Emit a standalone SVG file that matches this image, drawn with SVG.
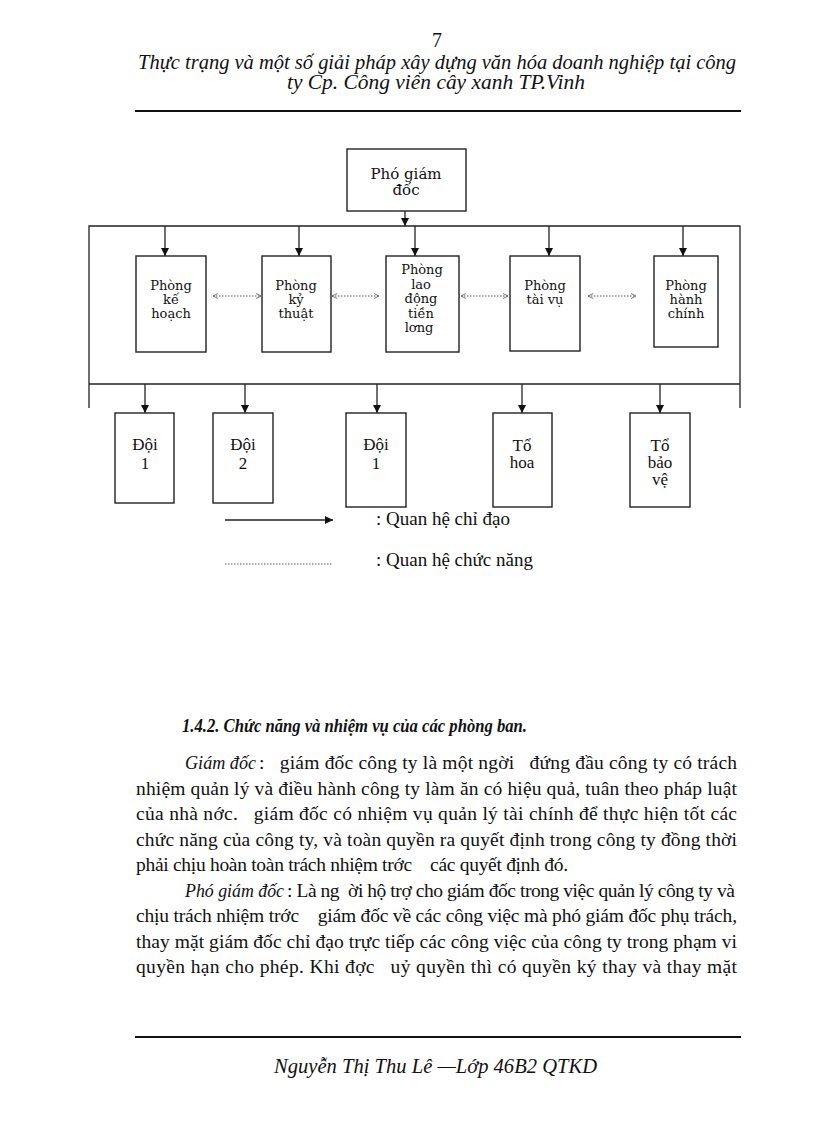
<svg xmlns="http://www.w3.org/2000/svg" width="816" height="1123" viewBox="0 0 816 1123">
<defs>
<style>
.hdr{font-family:"Liberation Serif","Times New Roman",serif;font-size:20px;fill:#111}
.it{font-style:italic}
.box{fill:#fff;stroke:#222;stroke-width:1.4}
.t1{font-family:"DejaVu Serif",serif;font-size:13px;fill:#111;text-anchor:middle}
.t0{font-family:"DejaVu Serif",serif;font-size:15px;fill:#111;text-anchor:middle}
.t2{font-family:"Liberation Serif","Times New Roman",serif;font-size:17px;fill:#111;text-anchor:middle}
.lg{font-family:"Liberation Serif","Times New Roman",serif;font-size:19px;fill:#111}
.body{font-family:"Liberation Serif","Times New Roman",serif;font-size:19.5px;fill:#111;white-space:pre}
.solid{stroke:#222;stroke-width:1.3;fill:none}
.dot{stroke:#555;stroke-width:1;stroke-dasharray:1.5 1.5;fill:none}
.rule{stroke:#111;stroke-width:2}
</style>
<marker id="ah" markerWidth="9" markerHeight="8" refX="8" refY="4" orient="auto" markerUnits="userSpaceOnUse">
<path d="M0,0 L8,4 L0,8 Z" fill="#111"/>
</marker>
<marker id="dh" markerWidth="6" markerHeight="6" refX="5" refY="3" orient="auto-start-reverse" markerUnits="userSpaceOnUse">
<path d="M0,0.5 L5,3 L0,5.5" fill="none" stroke="#555" stroke-width="0.8"/>
</marker>
</defs>
<rect width="816" height="1123" fill="#fff"/>

<g id="header">
<text class="hdr" x="437" y="47" text-anchor="middle">7</text>
<text class="hdr it" x="138" y="69" textLength="598" lengthAdjust="spacingAndGlyphs">Thực trạng và một số giải pháp xây dựng văn hóa doanh nghiệp tại công</text>
<text class="hdr it" x="287" y="89" textLength="298" lengthAdjust="spacingAndGlyphs">ty Cp. Công viên cây xanh TP.Vinh</text>
<line class="rule" x1="135" y1="111" x2="741" y2="111"/>
</g>

<g id="connectors">
<line class="solid" x1="405" y1="211" x2="405" y2="226" marker-end="url(#ah)"/>
<path class="solid" d="M89,408 L89,226 L740,226 L740,408"/>
<line class="solid" x1="89" y1="384" x2="740" y2="384"/>
<line class="solid" x1="165" y1="226" x2="165" y2="256" marker-end="url(#ah)"/>
<line class="solid" x1="299" y1="226" x2="299" y2="256" marker-end="url(#ah)"/>
<line class="solid" x1="415" y1="226" x2="415" y2="256" marker-end="url(#ah)"/>
<line class="solid" x1="549" y1="226" x2="549" y2="256" marker-end="url(#ah)"/>
<line class="solid" x1="683" y1="226" x2="683" y2="256" marker-end="url(#ah)"/>
<line class="solid" x1="145" y1="384" x2="145" y2="413" marker-end="url(#ah)"/>
<line class="solid" x1="245" y1="384" x2="245" y2="413" marker-end="url(#ah)"/>
<line class="solid" x1="377" y1="384" x2="377" y2="413" marker-end="url(#ah)"/>
<line class="solid" x1="522" y1="384" x2="522" y2="413" marker-end="url(#ah)"/>
<line class="solid" x1="660" y1="384" x2="660" y2="413" marker-end="url(#ah)"/>
<line class="dot" x1="213" y1="296" x2="261" y2="296" marker-start="url(#dh)" marker-end="url(#dh)"/>
<line class="dot" x1="332" y1="296" x2="379" y2="296" marker-start="url(#dh)" marker-end="url(#dh)"/>
<line class="dot" x1="461" y1="296" x2="508" y2="296" marker-start="url(#dh)" marker-end="url(#dh)"/>
<line class="dot" x1="588" y1="296" x2="636" y2="296" marker-start="url(#dh)" marker-end="url(#dh)"/>
</g>

<g id="n-pgd">
<rect class="box" x="347" y="149" width="119" height="62"/>
<text class="t0" x="406" y="179">Phó giám</text>
<text class="t0" x="406" y="195">đốc</text>
</g>
<g id="n-khoach">
<rect class="box" x="136" y="256" width="70" height="96"/>
<text class="t1" x="171" y="290">Phòng</text>
<text class="t1" x="171" y="304">kế</text>
<text class="t1" x="171" y="318">hoạch</text>
</g>
<g id="n-kythuat">
<rect class="box" x="262" y="256" width="69" height="96"/>
<text class="t1" x="296" y="290">Phòng</text>
<text class="t1" x="296" y="304">kỷ</text>
<text class="t1" x="296" y="318">thuật</text>
</g>
<g id="n-ldtl">
<rect class="box" x="386" y="256" width="73" height="96"/>
<text class="t1" x="422" y="274">Phòng</text>
<text class="t1" x="421" y="289">lao</text>
<text class="t1" x="421" y="303">động</text>
<text class="t1" x="421" y="318">tiền</text>
<text class="t1" x="419" y="332">lơng</text>
</g>
<g id="n-taivu">
<rect class="box" x="510" y="256" width="70" height="95"/>
<text class="t1" x="545" y="290">Phòng</text>
<text class="t1" x="545" y="304">tài vụ</text>
</g>
<g id="n-hanhchinh">
<rect class="box" x="654" y="256" width="64" height="91"/>
<text class="t1" x="686" y="290">Phòng</text>
<text class="t1" x="686" y="304">hành</text>
<text class="t1" x="686" y="318">chính</text>
</g>

<g id="n-doi1">
<rect class="box" x="115" y="413" width="59" height="90"/>
<text class="t2" x="145" y="450">Đội</text>
<text class="t2" x="145" y="469">1</text>
</g>
<g id="n-doi2">
<rect class="box" x="213" y="413" width="60" height="90"/>
<text class="t2" x="243" y="450">Đội</text>
<text class="t2" x="243" y="469">2</text>
</g>
<g id="n-doi1b">
<rect class="box" x="346" y="413" width="60" height="94"/>
<text class="t2" x="376" y="450">Đội</text>
<text class="t2" x="376" y="469">1</text>
</g>
<g id="n-tohoa">
<rect class="box" x="493" y="413" width="59" height="94"/>
<text class="t2" x="522" y="451">Tổ</text>
<text class="t2" x="522" y="468">hoa</text>
</g>
<g id="n-tobaove">
<rect class="box" x="630" y="413" width="60" height="94"/>
<text class="t2" x="660" y="451">Tổ</text>
<text class="t2" x="660" y="468">bảo</text>
<text class="t2" x="660" y="485">vệ</text>
</g>

<g id="legend">
<line class="solid" x1="225" y1="520" x2="333" y2="520" marker-end="url(#ah)"/>
<text class="lg" x="376" y="525">: Quan hệ chỉ đạo</text>
<line class="dot" x1="225" y1="564" x2="333" y2="564"/>
<text class="lg" x="376" y="566">: Quan hệ chức năng</text>
</g>

<g id="body">
<text class="body" x="182" y="732" font-size="17" font-weight="bold" font-style="italic" textLength="345" lengthAdjust="spacingAndGlyphs">1.4.2. Chức năng và nhiệm vụ của các phòng ban.</text>
<text class="body it" x="185" y="769" textLength="71" lengthAdjust="spacingAndGlyphs">Giám đốc</text>
<text class="body" x="259" y="769" textLength="478" lengthAdjust="spacing" xml:space="preserve">:   giám đốc công ty là một ngời   đứng đầu công ty có trách</text>
<text class="body" x="136" y="794.5" textLength="601" lengthAdjust="spacing">nhiệm quản lý và điều hành công ty làm ăn có hiệu quả, tuân theo pháp luật</text>
<text class="body" x="136" y="820" textLength="601" lengthAdjust="spacing" xml:space="preserve">của nhà nớc.   giám đốc có nhiệm vụ quản lý tài chính để thực hiện tốt các</text>
<text class="body" x="136" y="845.5" textLength="601" lengthAdjust="spacing">chức năng của công ty, và toàn quyền ra quyết định trong công ty đồng thời</text>
<text class="body" x="136" y="871" textLength="432" lengthAdjust="spacing" xml:space="preserve">phải chịu hoàn toàn trách nhiệm trớc    các quyết định đó.</text>
<text class="body it" x="185" y="896.5" textLength="99" lengthAdjust="spacingAndGlyphs">Phó giám đốc</text>
<text class="body" x="287" y="896.5" textLength="448" lengthAdjust="spacing" xml:space="preserve">: Là ng  ời hộ trợ cho giám đốc trong việc quản lý công ty và</text>
<text class="body" x="136" y="922" textLength="601" lengthAdjust="spacing" xml:space="preserve">chịu trách nhiệm trớc    giám đốc về các công việc mà phó giám đốc phụ trách,</text>
<text class="body" x="136" y="947.5" textLength="601" lengthAdjust="spacing">thay mặt giám đốc chỉ đạo trực tiếp các công việc của công ty trong phạm vi</text>
<text class="body" x="136" y="973" textLength="601" lengthAdjust="spacing" xml:space="preserve">quyền hạn cho phép. Khi đợc   uỷ quyền thì có quyền ký thay và thay mặt</text>
</g>

<g id="footer">
<line class="rule" x1="135" y1="1037" x2="741" y2="1037"/>
<text class="hdr it" x="274" y="1073" textLength="323" lengthAdjust="spacingAndGlyphs">Nguyễn Thị Thu Lê —Lớp 46B2 QTKD</text>
</g>
</svg>
